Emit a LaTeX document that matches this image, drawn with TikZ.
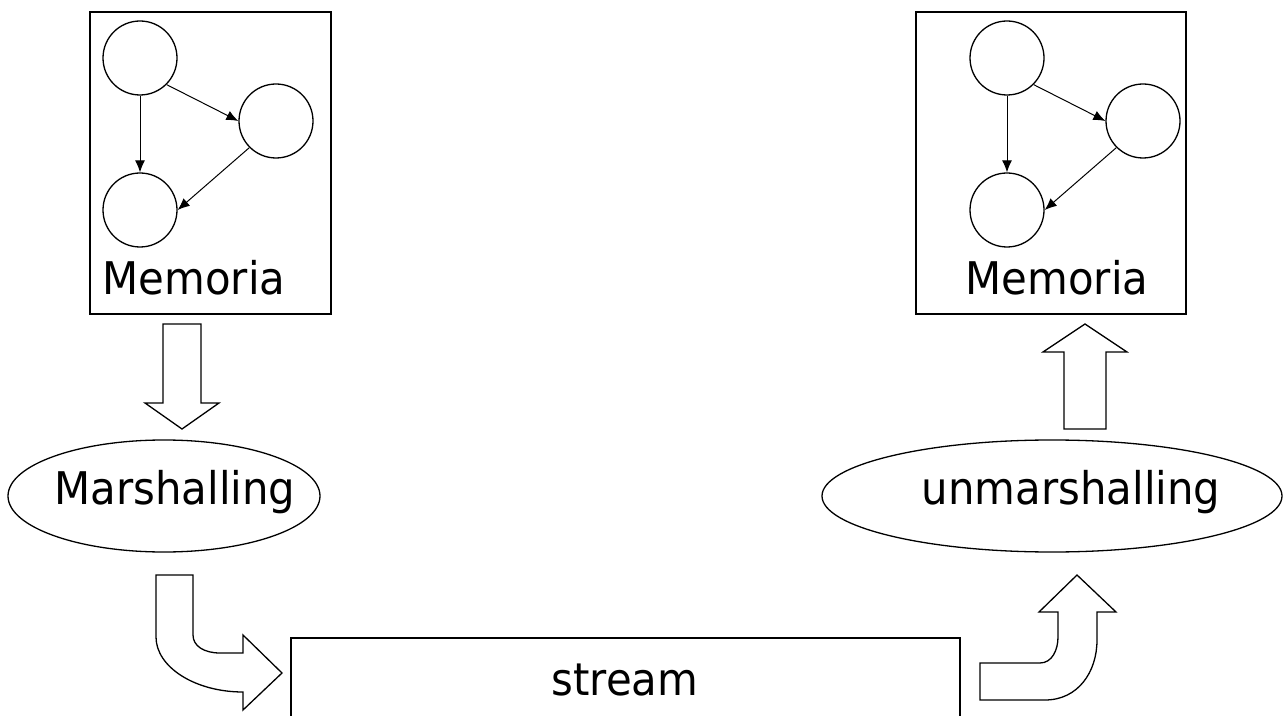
\documentclass[tikz,border=0pt]{standalone}
\usepackage{fontspec}
\setmainfont{DejaVu Sans}[FakeStretch=0.93]
\usetikzlibrary{arrows.meta,shapes.geometric}
\begin{document}
\begin{tikzpicture}[x=0.5pt,y=-0.5pt,
  line width=0.65pt,
  gnode/.style={draw,circle,minimum size=37pt,inner sep=0pt},
  gedge/.style={draw,-{Latex[length=6pt,width=5pt]},line width=0.5pt},
  lbl/.style={anchor=base,inner sep=0pt,font=\fontsize{22.5}{27}\selectfont},
  blk/.style={draw,fill=white,line join=miter},
  frame/.style={draw}]
\clip (0,0) rectangle (1284,716);
\fill[white] (0,0) rectangle (1284,716);
% memory boxes
\draw[frame] (90,12) rectangle (331,314);
\draw[frame] (916,12) rectangle (1186,314);
% left graph
\node[gnode] (la) at (140,58) {};
\node[gnode] (lb) at (276,121) {};
\node[gnode] (lc) at (140,210) {};
\draw[gedge] (la.south) -- (lc.north);
\draw[gedge] (la.-45) -- (lb.west);
\draw[gedge] (lb.south west) -- (lc.east);
\node[lbl] (lmem) at (194,295) {Memoria};
% right graph
\node[gnode] (ra) at (1007,58) {};
\node[gnode] (rb) at (1143,121) {};
\node[gnode] (rc) at (1007,210) {};
\draw[gedge] (ra.south) -- (rc.north);
\draw[gedge] (ra.-45) -- (rb.west);
\draw[gedge] (rb.south west) -- (rc.east);
\node[lbl] (rmem) at (1057,295) {Memoria};
% ellipses
\node[draw,ellipse,minimum width=312pt*0.5,minimum height=112pt*0.5] (mar) at (164,496) {};
\node[lbl] (martxt) at (175,504) {Marshalling};
\node[draw,ellipse,minimum width=460pt*0.5,minimum height=112pt*0.5] (unm) at (1052,496) {};
\node[lbl] (unmtxt) at (1071,504) {unmarshalling};
% stream box
\draw[frame] (291,638) rectangle (960,740);
\node[lbl] (stream) at (625,695) {stream};
% down arrow (left)
\draw[blk] (163,324) -- (201,324) -- (201,403) -- (219,403) -- (182,429)
  -- (145,403) -- (163,403) -- cycle;
% up arrow (right)
\draw[blk] (1064,429) -- (1106,429) -- (1106,352) -- (1127,352) -- (1085,324)
  -- (1043,352) -- (1064,352) -- cycle;
% bent arrow left
\draw[blk] (156,575) -- (193,575) -- (193,635)
  .. controls (193,646) and (204,653) .. (220,653)
  -- (243,653) -- (243,635) -- (282,673) -- (243,710) -- (243,692)
  .. controls (195,692) and (156,667) .. (156,637) -- cycle;
% bent arrow right
\draw[blk] (980,663) -- (1040,663)
  .. controls (1052,663) and (1058,650) .. (1058,637)
  -- (1058,612) -- (1039,612) -- (1077,575) -- (1116,612) -- (1097,612)
  -- (1097,640) .. controls (1097,672) and (1078,700) .. (1045,700)
  -- (980,700) -- cycle;
\end{tikzpicture}
\end{document}
